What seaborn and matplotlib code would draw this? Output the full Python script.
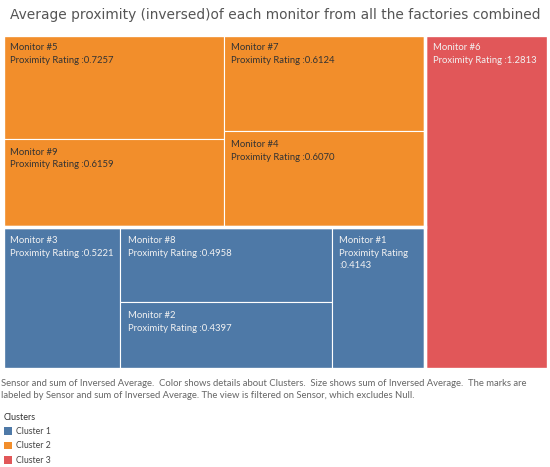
import matplotlib
matplotlib.use("Agg")
import matplotlib.pyplot as plt
from matplotlib.patches import Rectangle, Patch
import seaborn as sns

# ---- data ----
monitors = ["#5", "#9", "#7", "#4", "#3", "#8", "#2", "#1", "#6"]
ratings = [0.7257, 0.6159, 0.6124, 0.6070, 0.5221, 0.4958, 0.4397, 0.4143, 1.2813]
clusters = ["Cluster 2", "Cluster 2", "Cluster 2", "Cluster 2",
            "Cluster 1", "Cluster 1", "Cluster 1", "Cluster 1", "Cluster 3"]
cluster_names = ["Cluster 1", "Cluster 2", "Cluster 3"]
cluster_colors = ["#4E79A7", "#F28E2B", "#E15759"]

title = "Average proximity (inversed)of each monitor from all the factories combined"
caption_lines = ["Sensor and sum of Inversed Average.  Color shows details about Clusters.  "
                 "Size shows sum of Inversed Average.  The marks are",
                 "labeled by Sensor and sum of Inversed Average. The view is filtered on Sensor, "
                 "which excludes Null."]

sns.set_theme(style="white")
plt.rcParams["font.family"] = ["Lato", "DejaVu Sans"]
palette = dict(zip(cluster_names, sns.color_palette(cluster_colors)))
value = dict(zip(monitors, ratings))
cl_of = dict(zip(monitors, clusters))

# slice-and-dice structure (squarified arrangement as in the reference)
tree = ("h", [("v", [("h", [("v", ["#5", "#9"]), ("v", ["#7", "#4"])]),
                     ("h", ["#3", ("v", ["#8", "#2"]), "#1"])]),
              "#6"])


def size(node):
    if isinstance(node, str):
        return value[node]
    return sum(size(c) for c in node[1])


rects = {}


def layout(node, x, y, w, h):
    if isinstance(node, str):
        rects[node] = (x, y, w, h)
        return
    d, kids = node
    total = size(node)
    pos = 0.0
    for k in kids:
        f = size(k) / total
        if d == "h":
            layout(k, x + pos * w, y, f * w, h)
        else:
            layout(k, x, y + pos * h, w, f * h)
        pos += f


layout(tree, 0, 0, 1, 1)

W, H = 550, 467
fig = plt.figure(figsize=(W / 100, H / 100), dpi=100)
renderer = fig.canvas.get_renderer()


def fit(t, target_px):
    bb = t.get_window_extent(renderer=renderer)
    t.set_fontsize(t.get_fontsize() * target_px / bb.width)


L, T, R, B = 2.5, 34.5, 547.5, 368.5
ax = fig.add_axes([L / W, 1 - B / H, (R - L) / W, (B - T) / H])
ax.set_xlim(0, 1)
ax.set_ylim(1, 0)
ax.axis("off")

for m in monitors:
    x, y, w, h = rects[m]
    ax.add_patch(Rectangle((x, y), w, h, facecolor=palette[cl_of[m]],
                           edgecolor="white", lw=0.8))

for cn in cluster_names:
    ms = [m for m in monitors if cl_of[m] == cn]
    x0 = min(rects[m][0] for m in ms)
    y0 = min(rects[m][1] for m in ms)
    x1 = max(rects[m][0] + rects[m][2] for m in ms)
    y1 = max(rects[m][1] + rects[m][3] for m in ms)
    ax.add_patch(Rectangle((x0, y0), x1 - x0, y1 - y0, facecolor="none",
                           edgecolor="white", lw=2.4))

for m in monitors:
    x, y, w, h = rects[m]
    pxw = w * (R - L)
    txtcol = "#333333" if cl_of[m] == "Cluster 2" else "#F2F2F2"
    sep = "\n" if pxw < 110 else " "
    lab = f"Monitor {m}\nProximity Rating{sep}:{value[m]:.4f}"
    ax.annotate(lab, xy=(x, y), xytext=(7.5, -9), textcoords="offset pixels",
                ha="left", va="top", fontsize=6.85, color=txtcol, linespacing=1.5)

tt = fig.text(10 / W, 1 - 19.5 / H, title, fontsize=9.2, color="#555555",
              ha="left", va="baseline", family=["DejaVu Sans"])
fit(tt, 528)

c1 = fig.text(1 / W, 1 - 386 / H, caption_lines[0], fontsize=6.5, color="#666666",
              ha="left", va="baseline")
fit(c1, 522)
c2 = fig.text(1 / W, 1 - 398 / H, caption_lines[1], fontsize=c1.get_fontsize(),
              color="#666666", ha="left", va="baseline")

handles = [Patch(facecolor=palette[c], edgecolor="none") for c in cluster_names]
leg = fig.legend(handles, cluster_names, title="Clusters", loc="upper left",
                 bbox_to_anchor=(-2 / W, 1 - 406.5 / H), frameon=False,
                 fontsize=6.3, title_fontsize=6.5, handlelength=0.9,
                 handleheight=0.9, handletextpad=0.5, labelspacing=0.62,
                 borderpad=0.2, alignment="left")
for t in leg.get_texts():
    t.set_color("#444444")
leg.get_title().set_color("#333333")

fig.savefig("out.png", dpi=100)
